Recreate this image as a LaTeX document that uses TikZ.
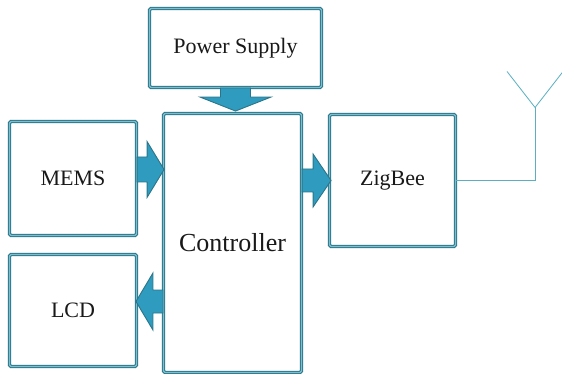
\documentclass[tikz,border=0pt]{standalone}
\usepackage{fontspec}
\setmainfont{Liberation Serif}
\newfontfamily\boxfont{Liberation Serif}
\usetikzlibrary{positioning}
\definecolor{edgedark}{HTML}{2A7589}
\definecolor{edgelight}{HTML}{7DBFCE}
\definecolor{arrfill}{HTML}{2F9BBE}
\definecolor{antline}{HTML}{5AAFC0}

% block arrow: start, angle, length, head length, shaft half, head half
\newcommand{\blkarrow}[6]{%
  \begin{scope}[shift={(#1)}, rotate=#2]
    \filldraw[blk] (0,-#5) -- (#3-#4,-#5) -- (#3-#4,-#6) -- (#3,0)
      -- (#3-#4,#6) -- (#3-#4,#5) -- (0,#5) -- cycle;
  \end{scope}}

\begin{document}
\begin{tikzpicture}[x=1pt, y=-1pt,
      box/.style={draw=edgedark, line width=1.1pt, double=edgelight, double distance=1.1pt,
        rounded corners=1.5pt, fill=white, font=\boxfont\fontsize{22}{24}\selectfont, text=black!90},
      blk/.style={fill=arrfill, draw=edgedark, line width=0.9pt, line join=miter},
      ant/.style={draw=antline, line width=0.8pt},
    ]
      \useasboundingbox (0,0) rectangle (562,374);
      \node[box, minimum width=172pt, minimum height=79pt] (ps) at (235.5,48) {Power Supply};
      \node[box, minimum width=138pt, minimum height=259pt, font=\boxfont\fontsize{26}{28}\selectfont] (ctl) at (232.5,243) {Controller};
      \node[box, minimum width=127pt, minimum height=114pt] (mems) at (73,178.5) {MEMS};
      \node[box, minimum width=127pt, minimum height=112pt] (lcd) at (73,310.5) {LCD};
      \node[box, minimum width=126pt, minimum height=132pt] (zb) at (392.5,180.5) {ZigBee};
      \path ([yshift=9pt]lcd.east -| ctl.west) coordinate (lcdin);
      \blkarrow{ps.south}{-90}{23}{14}{15}{35.5}
      \blkarrow{[yshift=9pt]mems.east}{0}{27}{17}{12.5}{28}
      \blkarrow{zb.west -| ctl.east}{0}{29}{18}{11.5}{26.5}
      \blkarrow{lcdin}{180}{27}{17}{11.5}{28.5}
      \draw[ant] (zb.east) -- ++(79,0) coordinate (mast) -- ++(0,-73) coordinate (feed);
      \draw[ant] (feed) -- ++(-28,-36);
      \draw[ant] (feed) -- ++(28,-36);
    \end{tikzpicture}
\end{document}
